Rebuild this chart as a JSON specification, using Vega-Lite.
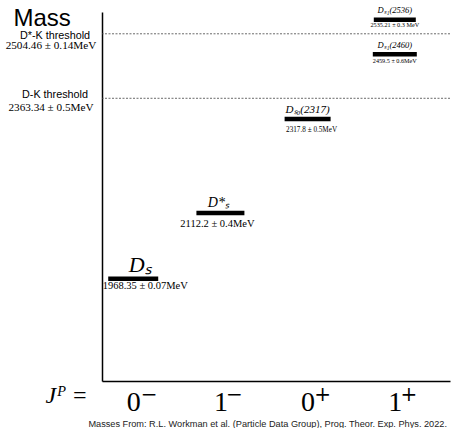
{
  "$schema": "https://vega.github.io/schema/vega-lite/v6.json",
  "width": 348,
  "height": 369,
  "autosize": "none",
  "padding": {"left": 102, "top": 12, "right": 1, "bottom": 47},
  "background": "white",
  "config": {"view": {"stroke": null}},
  "title": {
    "text": "Masses From: R.L. Workman et al. (Particle Data Group), Prog. Theor. Exp. Phys. 2022.",
    "orient": "bottom",
    "anchor": "end",
    "frame": "group",
    "offset": 11,
    "baseline": "alphabetic",
    "font": "Liberation Sans",
    "fontSize": 9.2,
    "fontWeight": "normal",
    "color": "#222222",
    "dx": -3
  },
  "datasets": {
    "states": [
      {"name": "Ds", "label": "Dₛ", "jp": 0, "mass": 1968.35, "value": "1968.35 ± 0.07MeV"},
      {"name": "Dss", "label": "D*ₛ", "jp": 1, "mass": 2112.2, "value": "2112.2 ± 0.4MeV"},
      {"name": "Ds0", "label": "Dₛ₀(2317)", "jp": 2, "mass": 2317.8, "value": "2317.8 ± 0.5MeV"},
      {"name": "Ds1a", "label": "Dₛ₁(2460)", "jp": 3, "mass": 2459.5, "value": "2459.5 ± 0.6MeV"},
      {"name": "Ds1b", "label": "Dₛ₁(2536)", "jp": 3, "mass": 2535.21, "value": "2535.21 ± 0.3 MeV"}
    ],
    "thresholds": [
      {"name": "DsK", "label": "D*-K threshold", "mass": 2504.46, "value": "2504.46 ± 0.14MeV"},
      {"name": "DK", "label": "D-K threshold", "mass": 2363.34, "value": "2363.34 ± 0.5MeV"}
    ],
    "parities": [
      {"jp": 0, "sign": "−"},
      {"jp": 1, "sign": "−"},
      {"jp": 2, "sign": "+"},
      {"jp": 3, "sign": "+"}
    ]
  },
  "layer": [
    {
      "data": {"name": "thresholds"},
      "mark": {"type": "rule", "strokeDash": [2, 1.5], "color": "#444444", "strokeWidth": 0.8},
      "encoding": {
        "y": {
          "field": "mass",
          "type": "quantitative",
          "scale": {"domain": [1744.7, 2552.15], "nice": false, "zero": false},
          "axis": {
            "domain": true,
            "domainColor": "black",
            "domainWidth": 1.5,
            "ticks": false,
            "labels": false,
            "grid": false,
            "title": "Mass",
            "titleAngle": 0,
            "titleAlign": "left",
            "titleBaseline": "alphabetic",
            "titleX": -89,
            "titleY": 13,
            "titleFont": "Liberation Sans",
            "titleFontSize": 24,
            "titleFontWeight": "normal",
            "titleColor": "black"
          }
        }
      }
    },
    {
      "data": {"name": "states"},
      "mark": {"type": "tick", "orient": "horizontal", "thickness": 4.5, "color": "black", "opacity": 1},
      "encoding": {
        "x": {
          "field": "jp",
          "type": "quantitative",
          "scale": {"domain": [-0.358, 3.633], "nice": false, "zero": false},
          "axis": {
            "values": [0, 1, 2, 3],
            "labelExpr": "['0','1','0','1'][datum.value]",
            "domain": true,
            "domainColor": "black",
            "domainWidth": 1.5,
            "ticks": false,
            "grid": false,
            "labelFlush": false,
            "labelOverlap": false,
            "labelFont": "Liberation Serif",
            "labelFontSize": 28,
            "labelColor": "black",
            "labelBaseline": "alphabetic",
            "labelPadding": 29,
            "labelDx": -5,
            "title": "Jᴾ =",
            "titleAngle": 0,
            "titleAlign": "left",
            "titleBaseline": "alphabetic",
            "titleX": -57,
            "titleY": 21,
            "titleFont": "Liberation Serif",
            "titleFontStyle": "italic",
            "titleFontSize": 24,
            "titleFontWeight": "normal",
            "titleColor": "black"
          }
        },
        "y": {"field": "mass", "type": "quantitative"},
        "size": {
          "field": "name",
          "type": "nominal",
          "scale": {"domain": ["Ds", "Dss", "Ds0", "Ds1a", "Ds1b"], "range": [50, 42, 41, 42, 42]},
          "legend": null
        }
      }
    },
    {
      "data": {"name": "parities"},
      "mark": {
        "type": "text",
        "font": "DejaVu Serif",
        "fontSize": 20,
        "align": "center",
        "baseline": "alphabetic",
        "color": "black",
        "dy": 20,
        "dx": {"expr": "datum.jp == 0 ? 16 : datum.jp == 1 ? 14 : datum.jp == 2 ? 15 : 14"}
      },
      "encoding": {
        "x": {"field": "jp", "type": "quantitative"},
        "y": {"datum": 1744.7, "type": "quantitative"},
        "text": {"field": "sign"}
      }
    },
    {
      "mark": {"type": "point", "shape": "M0,0L0.5,2L0,1.75L-0.5,2Z", "filled": true, "color": "black", "opacity": 1, "size": 441},
      "encoding": {
        "x": {"datum": -0.358, "type": "quantitative"},
        "y": {"datum": 2552.15, "type": "quantitative"}
      }
    },
    {
      "data": {"name": "states"},
      "mark": {
        "type": "text",
        "font": "Liberation Serif",
        "fontStyle": "italic",
        "align": "center",
        "baseline": "alphabetic",
        "color": "black",
        "dy": -6.5,
        "dx": {"expr": "datum.name == 'Ds' ? 7 : datum.name == 'Dss' ? -2 : 0"},
        "fontSize": {"expr": "datum.name == 'Ds' ? 22 : datum.name == 'Dss' ? 14 : datum.name == 'Ds0' ? 11 : 8.5"}
      },
      "encoding": {
        "x": {"field": "jp", "type": "quantitative"},
        "y": {"field": "mass", "type": "quantitative"},
        "text": {"field": "label"}
      }
    },
    {
      "data": {"name": "states"},
      "mark": {
        "type": "text",
        "font": "Liberation Serif",
        "align": "center",
        "baseline": "alphabetic",
        "color": "black",
        "dy": {"expr": "datum.name == 'Ds' ? 10 : datum.name == 'Dss' ? 14 : datum.name == 'Ds0' ? 13 : datum.name == 'Ds1a' ? 9 : 7.5"},
        "dx": {"expr": "datum.name == 'Ds' ? 12 : datum.name == 'Dss' ? -3 : datum.name == 'Ds0' ? 4 : 0"},
        "fontSize": {"expr": "datum.name == 'Ds' || datum.name == 'Dss' ? 10.5 : datum.name == 'Ds0' ? 7.2 : 6.2"}
      },
      "encoding": {
        "x": {"field": "jp", "type": "quantitative"},
        "y": {"field": "mass", "type": "quantitative"},
        "text": {"field": "value"}
      }
    },
    {
      "data": {"name": "thresholds"},
      "mark": {
        "type": "text",
        "font": "Liberation Sans",
        "fontSize": 10.8,
        "align": "center",
        "baseline": "alphabetic",
        "color": "black",
        "dy": {"expr": "datum.name == 'DK' ? -0.5 : 5.0"}
      },
      "encoding": {
        "x": {"datum": -0.897, "type": "quantitative"},
        "y": {"field": "mass", "type": "quantitative"},
        "text": {"field": "label"}
      }
    },
    {
      "data": {"name": "thresholds"},
      "mark": {
        "type": "text",
        "font": "Liberation Serif",
        "fontSize": 11.2,
        "align": "center",
        "baseline": "alphabetic",
        "color": "black",
        "dy": {"expr": "datum.name == 'DK' ? 12.5 : 15.5"}
      },
      "encoding": {
        "x": {"datum": -0.943, "type": "quantitative"},
        "y": {"field": "mass", "type": "quantitative"},
        "text": {"field": "value"}
      }
    }
  ]
}
